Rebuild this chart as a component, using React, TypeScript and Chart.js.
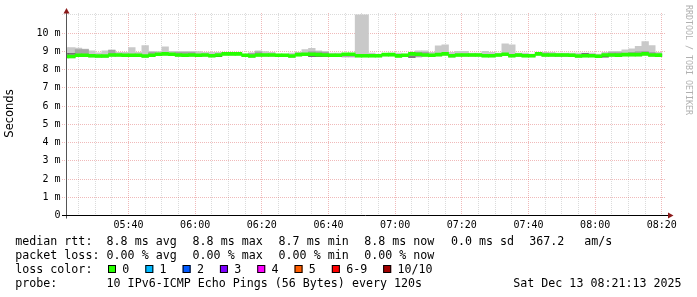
import { useEffect, useRef } from 'react';
import { Chart, registerables } from 'chart.js';
Chart.register(...registerables);

// ---- time window (minutes since midnight) ----
const RANGE_START = 321.25; // 05:21:15
const RANGE_END = 501.25; // 08:21:15
const FIRST_STEP = 320; // 05:20, first 2-minute step
const STEP = 2;

const X_TICK_LABELS = ['05:40', '06:00', '06:20', '06:40', '07:00', '07:20', '07:40', '08:00', '08:20'];
const Y_TICK_LABELS = ['0', '1 m', '2 m', '3 m', '4 m', '5 m', '6 m', '7 m', '8 m', '9 m', '10 m'];

// ---- per-step values (ms) ----
const medV = [
  8.72, 8.72, 8.78, 8.78, 8.76, 8.74, 8.74, 8.8, 8.8, 8.78,
  8.78, 8.78, 8.74, 8.78, 8.84, 8.86, 8.84, 8.8, 8.78, 8.8,
  8.78, 8.8, 8.76, 8.8, 8.86, 8.86, 8.86, 8.78, 8.74, 8.8,
  8.8, 8.8, 8.78, 8.78, 8.74, 8.82, 8.84, 8.84, 8.82, 8.8,
  8.78, 8.78, 8.84, 8.84, 8.76, 8.76, 8.76, 8.76, 8.82, 8.82,
  8.75, 8.78, 8.86, 8.84, 8.8, 8.78, 8.82, 8.86, 8.76, 8.8,
  8.8, 8.8, 8.8, 8.76, 8.76, 8.8, 8.84, 8.76, 8.8, 8.76,
  8.76, 8.86, 8.8, 8.8, 8.8, 8.8, 8.78, 8.74, 8.76, 8.76,
  8.73, 8.8, 8.8, 8.79, 8.82, 8.82, 8.82, 8.86, 8.8, 8.79,
];
const maxV = [
  9.2, 9.2, 9.18, 9.12, 9.03, 8.92, 9.03, 9.08, 8.95, 8.95,
  9.21, 8.95, 9.32, 9.0, 8.98, 9.25, 9.0, 9.0, 9.0, 9.0,
  8.98, 8.95, 8.95, 8.94, 8.9, 8.9, 8.88, 8.85, 8.9, 9.03,
  8.98, 8.95, 8.85, 8.85, 8.9, 8.95, 9.1, 9.16, 9.03, 9.0,
  8.9, 8.9, 8.88, 8.88, 11.0, 11.0, 8.9, 8.85, 8.85, 8.9,
  8.9, 8.85, 8.9, 9.03, 9.03, 8.95, 9.3, 9.36, 8.95, 9.0,
  9.0, 8.9, 8.9, 9.0, 8.95, 8.9, 9.41, 9.36, 8.9, 8.9,
  8.85, 8.9, 8.95, 8.95, 8.9, 8.9, 8.9, 8.9, 8.9, 8.9,
  8.85, 8.95, 9.0, 9.0, 9.08, 9.14, 9.27, 9.54, 9.32, 8.94,
];
const hiV = [
  8.8, 8.8, 9.1, 9.1, 8.8, 8.78, 8.78, 9.05, 8.84, 8.82,
  8.82, 8.82, 8.78, 8.95, 8.88, 8.9, 8.88, 8.95, 8.95, 8.95,
  8.82, 8.84, 8.8, 8.84, 8.9, 8.9, 8.9, 8.82, 8.9, 8.97,
  8.84, 8.84, 8.82, 8.82, 8.78, 8.86, 8.88, 8.98, 8.97, 8.95,
  8.82, 8.82, 8.88, 8.88, 8.8, 8.8, 8.8, 8.8, 8.86, 8.86,
  8.79, 8.82, 8.9, 8.95, 8.95, 8.82, 8.86, 8.9, 8.8, 8.84,
  8.84, 8.84, 8.84, 8.8, 8.8, 8.84, 8.88, 8.8, 8.84, 8.8,
  8.8, 8.9, 8.9, 8.84, 8.84, 8.84, 8.82, 8.78, 8.8, 8.8,
  8.77, 8.84, 8.93, 8.93, 8.86, 8.95, 8.98, 9.0, 8.95, 8.83,
];
const loV = [
  8.66, 8.66, 8.73, 8.73, 8.71, 8.69, 8.69, 8.75, 8.75, 8.73,
  8.73, 8.73, 8.69, 8.73, 8.79, 8.81, 8.79, 8.75, 8.73, 8.75,
  8.73, 8.75, 8.71, 8.75, 8.81, 8.81, 8.81, 8.73, 8.69, 8.75,
  8.75, 8.75, 8.73, 8.73, 8.69, 8.77, 8.79, 8.74, 8.74, 8.75,
  8.73, 8.73, 8.72, 8.72, 8.71, 8.71, 8.71, 8.71, 8.77, 8.77,
  8.7, 8.73, 8.7, 8.7, 8.75, 8.73, 8.77, 8.81, 8.71, 8.75,
  8.75, 8.75, 8.75, 8.71, 8.71, 8.75, 8.79, 8.71, 8.72, 8.71,
  8.71, 8.81, 8.75, 8.75, 8.72, 8.72, 8.72, 8.69, 8.71, 8.71,
  8.68, 8.75, 8.75, 8.74, 8.77, 8.77, 8.77, 8.81, 8.75, 8.74,
];
const minV = [
  8.64, 8.64, 8.71, 8.71, 8.68, 8.67, 8.67, 8.73, 8.73, 8.71,
  8.71, 8.71, 8.66, 8.71, 8.77, 8.79, 8.77, 8.73, 8.71, 8.73,
  8.71, 8.73, 8.69, 8.73, 8.79, 8.79, 8.79, 8.71, 8.67, 8.73,
  8.73, 8.73, 8.71, 8.71, 8.67, 8.75, 8.77, 8.72, 8.72, 8.73,
  8.71, 8.71, 8.68, 8.68, 8.69, 8.69, 8.69, 8.69, 8.75, 8.75,
  8.68, 8.71, 8.68, 8.68, 8.73, 8.71, 8.75, 8.79, 8.67, 8.73,
  8.73, 8.73, 8.73, 8.69, 8.69, 8.73, 8.77, 8.69, 8.7, 8.69,
  8.69, 8.77, 8.73, 8.73, 8.7, 8.7, 8.7, 8.67, 8.69, 8.69,
  8.66, 8.73, 8.73, 8.72, 8.75, 8.75, 8.75, 8.79, 8.73, 8.72,
];
// darkest smoke shade, only where visible
const darkLo: (number | null)[] = [
  8.84, 8.84, null, null, null, null, null, null, null, null,
  null, null, null, null, null, null, null, null, null, null,
  null, null, null, 8.7, null, null, null, null, null, null,
  null, null, null, null, null, null, null, 8.72, 8.72, 8.72,
  null, null, null, null, null, null, null, null, null, null,
  null, null, 8.66, null, null, null, null, null, null, null,
  null, null, null, null, null, null, null, null, null, null,
  null, null, null, null, null, null, null, null, 8.84, null,
  8.68, 8.68, null, null, null, null, null, null, null, null,
];
const darkHi: (number | null)[] = [
  8.88, 8.88, null, null, null, null, null, null, null, null,
  null, null, null, null, null, null, null, null, null, null,
  null, null, null, 8.74, null, null, null, null, null, null,
  null, null, null, null, null, null, null, 8.76, 8.76, 8.76,
  null, null, null, null, null, null, null, null, null, null,
  null, null, 8.7, null, null, null, null, null, null, null,
  null, null, null, null, null, null, null, null, null, null,
  null, null, null, null, null, null, null, null, 8.88, null,
  8.72, 8.72, null, null, null, null, null, null, null, null,
];

// ---- legend texts ----
const RTT_STATS = ['8.8 ms avg', '8.8 ms max', '8.7 ms min', '8.8 ms now', '0.0 ms sd', '367.2', 'am/s'];
const LOSS_STATS = ['0.00 % avg', '0.00 % max', '0.00 % min', '0.00 % now'];
const LOSS_LABELS = ['0', '1', '2', '3', '4', '5', '6-9', '10/10'];
const LOSS_COLORS = ['#26ff00', '#00b8ff', '#0059ff', '#7e00ff', '#ff00ff', '#ff5e00', '#ff0000', '#a10000'];
const PROBE_TEXT = '10 IPv6-ICMP Echo Pings (56 Bytes) every 120s';
const DATE_TEXT = 'Sat Dec 13 08:21:13 2025';

const MED_HALF = 0.08;
const MONO = '"DejaVu Sans Mono", monospace';
const GRID_MINOR = 'rgba(160,160,160,0.38)';
const GRID_MAJOR = 'rgba(220,90,90,0.42)';

const toMin = (s: string) => {
  const [h, m] = s.split(':').map(Number);
  return h * 60 + m;
};
const stepX = (i: number) => FIRST_STEP + STEP * i + STEP / 2;

const overlay = {
  id: 'overlay',
  afterDraw(chart: any) {
    const { ctx, chartArea } = chart;
    const ys = chart.scales.y;
    ctx.save();
    const yAxisX = Math.floor(chartArea.left) + 0.5;
    const xAxisY = Math.floor(ys.getPixelForValue(0)) + 0.5;
    // axes
    ctx.lineWidth = 1;
    ctx.strokeStyle = '#555';
    ctx.beginPath();
    ctx.moveTo(yAxisX, xAxisY + 3);
    ctx.lineTo(yAxisX, 12);
    ctx.stroke();
    ctx.strokeStyle = '#000';
    ctx.beginPath();
    ctx.moveTo(62, xAxisY);
    ctx.lineTo(669, xAxisY);
    ctx.stroke();
    // arrows
    ctx.fillStyle = '#8b1a1a';
    ctx.beginPath();
    ctx.moveTo(yAxisX, 8);
    ctx.lineTo(yAxisX - 3, 13.5);
    ctx.lineTo(yAxisX + 3, 13.5);
    ctx.closePath();
    ctx.fill();
    ctx.beginPath();
    ctx.moveTo(668, xAxisY - 3);
    ctx.lineTo(668, xAxisY + 3);
    ctx.lineTo(673.5, xAxisY);
    ctx.closePath();
    ctx.fill();

    // vertical axis title
    ctx.fillStyle = '#000';
    ctx.font = '11.5px "DejaVu Sans", sans-serif';
    ctx.textAlign = 'center';
    ctx.textBaseline = 'middle';
    ctx.save();
    ctx.translate(10.5, 113.5);
    ctx.rotate(-Math.PI / 2);
    ctx.fillText('Seconds', 0, 0);
    ctx.restore();

    // watermark
    ctx.save();
    ctx.fillStyle = '#b0b0b0';
    ctx.font = `8.3px ${MONO}`;
    ctx.textAlign = 'left';
    ctx.textBaseline = 'middle';
    ctx.translate(688.3, 5);
    ctx.rotate(Math.PI / 2);
    ctx.fillText('RRDTOOL / TOBI OETIKER', 0, 0);
    ctx.restore();

    // legend
    ctx.fillStyle = '#000';
    ctx.font = `11.65px ${MONO}`;
    ctx.textAlign = 'left';
    ctx.textBaseline = 'alphabetic';
    const colX = [106.6, 192.6, 278.6, 364.3, 451, 529.3, 584.3];
    const rows = [245, 258.9, 272.8, 286.7];
    ctx.fillText('median rtt:', 15.3, rows[0]);
    RTT_STATS.forEach((t, i) => ctx.fillText(t, colX[i], rows[0]));
    ctx.fillText('packet loss:', 15.3, rows[1]);
    LOSS_STATS.forEach((t, i) => ctx.fillText(t, colX[i], rows[1]));
    ctx.fillText('loss color:', 15.3, rows[2]);
    let sx = 108;
    LOSS_LABELS.forEach((t, i) => {
      ctx.fillStyle = LOSS_COLORS[i];
      ctx.fillRect(sx, 265, 8, 8);
      ctx.strokeStyle = '#000';
      ctx.lineWidth = 1;
      ctx.strokeRect(sx + 0.5, 265.5, 7, 7);
      ctx.fillStyle = '#000';
      ctx.fillText(t, sx + 14.3, rows[2]);
      sx += 14.3 + ctx.measureText(t).width + 16;
    });
    ctx.fillText('probe:', 15.3, rows[3]);
    ctx.fillText(PROBE_TEXT, colX[0], rows[3]);
    ctx.textAlign = 'right';
    ctx.fillText(DATE_TEXT, 681.5, rows[3]);
    ctx.restore();
  },
};

export default function App() {
  const ref = useRef<HTMLCanvasElement>(null);
  useEffect(() => {
    document.body.style.margin = '0';
    const canvas = ref.current!;
    const mk = (lo: (number | null)[], hi: (number | null)[]) =>
      lo.map((v, i) => ({ x: stepX(i), y: v === null || hi[i] === null ? null : [v, hi[i]] }));
    const barCommon = {
      grouped: false,
      barPercentage: 1,
      categoryPercentage: 1,
      borderWidth: 0,
      borderSkipped: false,
    };
    const xMajor = X_TICK_LABELS.map(toMin);
    const chart = new Chart(canvas, {
      type: 'bar',
      data: {
        datasets: [
          { ...barCommon, label: 'median', order: 1, backgroundColor: '#26ff00',
            data: medV.map((m, i) => ({ x: stepX(i), y: [m - MED_HALF, m + MED_HALF] })) as any },
          { ...barCommon, label: 'dark', order: 2, backgroundColor: '#5a5a5a', data: mk(darkLo, darkHi) as any },
          { ...barCommon, label: 'mid', order: 3, backgroundColor: '#a6a6a6', data: mk(loV, hiV) as any },
          { ...barCommon, label: 'range', order: 4, backgroundColor: '#c9c9c9', data: mk(minV, maxV) as any },
        ],
      },
      options: {
        animation: false,
        responsive: false,
        events: [],
        layout: { padding: { left: 0, right: 31, top: 13, bottom: 0 } },
        plugins: { legend: { display: false }, tooltip: { enabled: false } },
        scales: {
          x: {
            type: 'linear',
            min: RANGE_START,
            max: RANGE_END,
            offset: false,
            afterFit: (s: any) => { s.height = 81.5; },
            afterBuildTicks: (s: any) => {
              const t = [];
              for (let v = 325; v <= 500; v += 5) t.push({ value: v });
              s.ticks = t;
            },
            grid: {
              offset: false,
              drawTicks: false,
              color: (c: any) => (xMajor.includes(c.tick?.value) ? GRID_MAJOR : GRID_MINOR),
            },
            border: { display: false, dash: [1, 1] },
            ticks: {
              autoSkip: false,
              maxRotation: 0,
              padding: 3.5,
              color: '#000',
              font: { family: MONO, size: 10 },
              callback: (v: any) => {
                const idx = xMajor.indexOf(Number(v));
                return idx >= 0 ? X_TICK_LABELS[idx] : '';
              },
            },
          },
          y: {
            type: 'linear',
            min: 0,
            max: 11.1,
            afterFit: (s: any) => { s.width = 66; },
            afterBuildTicks: (s: any) => {
              const t = [];
              for (let k = 0; k <= 22; k++) t.push({ value: k / 2 });
              s.ticks = t;
            },
            grid: {
              drawTicks: true,
              tickLength: 4,
              tickBorderDash: [1, 1],
              color: (c: any) => {
                const v = c.tick?.value;
                if (v === 0) return 'rgba(0,0,0,0)';
                return Number.isInteger(v) && v <= 10 ? GRID_MAJOR : GRID_MINOR;
              },
            },
            border: { display: false, dash: [1, 1] },
            ticks: {
              padding: 1.5,
              color: '#000',
              font: { family: MONO, size: 10 },
              callback: (v: any) => {
                const n = Number(v);
                return Number.isInteger(n) && n < Y_TICK_LABELS.length ? Y_TICK_LABELS[n] : '';
              },
            },
          },
        },
      },
      plugins: [overlay],
    });
    return () => chart.destroy();
  }, []);
  return (
    <div style={{ position: 'absolute', left: 0, top: 0, width: 697, height: 297, background: '#fff' }}>
      <canvas ref={ref} width={697} height={297} style={{ width: 697, height: 297 }} />
    </div>
  );
}
